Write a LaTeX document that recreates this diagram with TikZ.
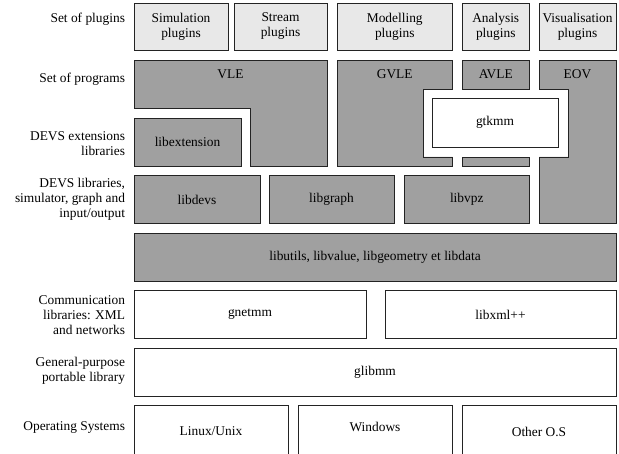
\documentclass[tikz,border=0pt]{standalone}
\usepackage{fontspec}
\setmainfont{Liberation Serif}
\definecolor{progfill}{RGB}{160,160,160}
\definecolor{plugfill}{RGB}{232,232,232}
\definecolor{edge}{RGB}{35,35,35}
\begin{document}
\begin{tikzpicture}[x=1pt,y=-1pt,
  every node/.style={font=\fontsize{13.4}{15}\selectfont, align=center, inner sep=0pt, outer sep=0pt},
  blk/.style={draw=edge, line width=0.8pt},
  plug/.style={blk, fill=plugfill, minimum height=47pt},
  prog/.style={blk, fill=progfill, minimum height=48pt},
  wbox/.style={blk, fill=white, minimum height=48pt},
  lbl/.style={anchor=east, align=right},
]
\useasboundingbox[fill=white] (0,0) rectangle (619,454);

% left labels
\node[lbl] (l1) at (125,19) {Set of plugins};
\node[lbl] (l2) at (125,79) {Set of programs};
\node[lbl] (l3) at (125,144) {DEVS extensions\\libraries};
\node[lbl] (l4) at (125,199) {DEVS libraries,\\simulator, graph and\\input/output};
\node[lbl] (l5) at (125,315) {Communication\\libraries: XML\\and networks};
\node[lbl] (l6) at (125,371) {General-purpose\\portable library};
\node[lbl] (l7) at (125,428) {Operating Systems};

% plugins
\node[plug, minimum width=94pt] (sim) at (181,26.5) {Simulation\\plugins};
\node[plug, minimum width=93pt] (stream) at (280.5,26.5) {Stream\\plugins};
\node[plug, minimum width=115.5pt] (model) at (394.75,26.5) {Modelling\\plugins};
\node[plug, minimum width=67.5pt] (anal) at (495.75,26.5) {Analysis\\plugins};
\node[plug, minimum width=77pt] (visu) at (577.5,26.5) {Visualisation\\plugins};

% programs
\draw[blk, fill=progfill] (134,60.5) -- (327,60.5) -- (327,166) -- (250,166) -- (250,108.5) -- (134,108.5) -- cycle;
\node (vle) at (230.5,74) {VLE};
\draw[blk, fill=progfill] (337,60.5) -- (452.5,60.5) -- (452.5,89) -- (423,89) -- (423,157) -- (452.5,157) -- (452.5,166) -- (337,166) -- cycle;
\node (gvle) at (394.75,74) {GVLE};
\draw[blk, fill=progfill] (462,60.5) rectangle (529.5,89);
\draw[blk, fill=progfill] (462,157) rectangle (529.5,166);
\node (avle) at (495.75,74) {AVLE};
\draw[blk, fill=progfill] (539,60.5) -- (616,60.5) -- (616,223.5) -- (539,223.5) -- (539,157) -- (568,157) -- (568,89) -- (539,89) -- cycle;
\node (eov) at (577.5,74) {EOV};
\node[wbox, minimum width=126pt, minimum height=49pt] (gtkmm) at (495,122.5) {gtkmm};

% extension
\node[prog, minimum width=107pt] (libext) at (187.5,142) {libextension};

% DEVS libraries
\node[prog, minimum width=126pt] (libdevs) at (197,199.5) {libdevs};
\node[prog, minimum width=125pt] (libgraph) at (331.5,199.5) {libgraph};
\node[prog, minimum width=125.5pt] (libvpz) at (466.75,199.5) {libvpz};

% utilities
\node[prog, minimum width=482pt] (libutils) at (375,257) {libutils, libvalue, libgeometry et libdata};

% communication
\node[wbox, minimum width=232pt] (gnetmm) at (250,314.5) {gnetmm};
\node[wbox, minimum width=231pt] (libxml) at (500.5,314.5) {libxml++};

% glib
\node[wbox, minimum width=482pt] (glibmm) at (375,372) {glibmm};

% operating systems
\node[wbox, minimum width=154pt, minimum height=56pt] (linux) at (211,433.5) {};
\node[wbox, minimum width=154pt, minimum height=56pt] (windows) at (375,433.5) {};
\node[wbox, minimum width=154pt, minimum height=56pt] (other) at (539,433.5) {};
\node (linuxt) at (211,431) {Linux/Unix};
\node (windowst) at (375,427) {Windows};
\node (othert) at (539,432) {Other O.S};
\end{tikzpicture}
\end{document}
